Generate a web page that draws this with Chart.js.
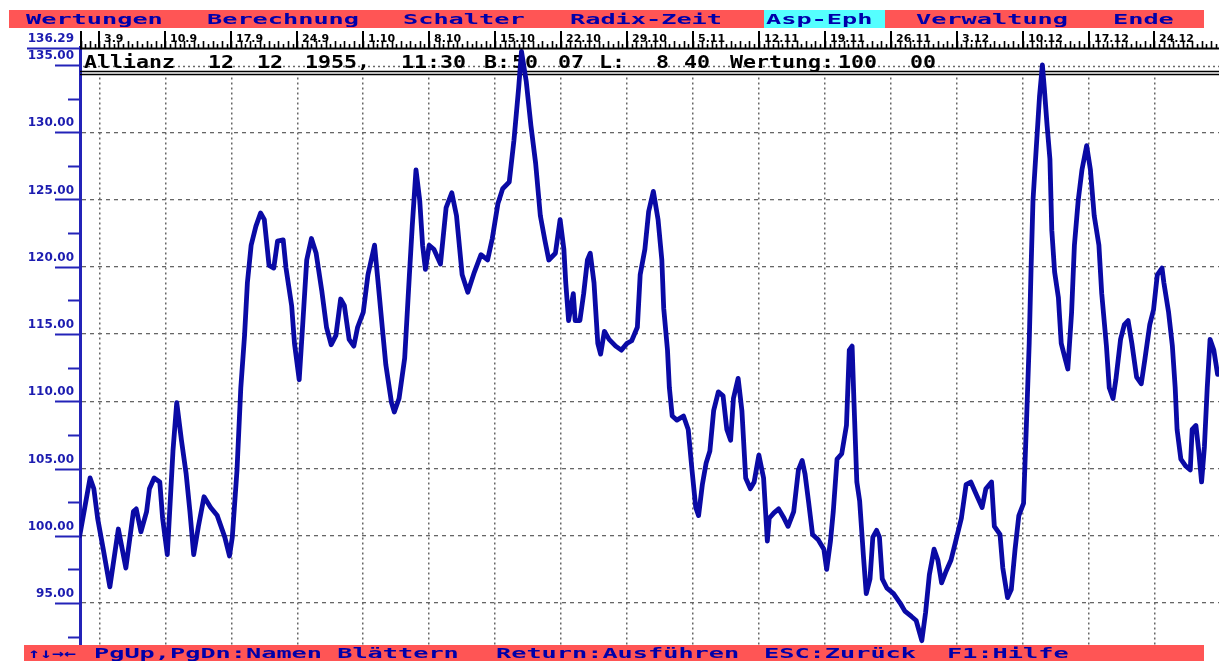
<!DOCTYPE html>
<html>
<head>
<meta charset="utf-8">
<script src="https://cdn.jsdelivr.net/npm/chart.js@4.4.0/dist/chart.umd.min.js"></script>
<style>
  html, body { margin: 0; padding: 0; background: #fff; }
  #wrap { width: 1219px; height: 666px; }
</style>
</head>
<body>
<div id="wrap"><canvas id="wertungChart" width="1219" height="666"></canvas></div>
<script>
// Tage ab 3.9. (Tag 0 = 3.9.)
const dayOffsets = [
  -2.1, -1.0, -0.6, -0.2, 0.4, 1.1, 2.0, 2.8, 3.6, 3.9,
  4.4, 5.0, 5.3, 5.8, 6.4, 6.7, 7.2, 7.8, 8.2, 8.7,
  9.2, 9.6, 10.0, 10.5, 11.1, 11.8, 12.5, 13.3, 13.8, 14.1,
  14.6, 15.0, 15.4, 15.7, 16.1, 16.6, 17.1, 17.5, 18.0, 18.5,
  18.9, 19.5, 19.8, 20.4, 20.7, 21.2, 21.6, 22.0, 22.5, 23.0,
  23.6, 24.1, 24.6, 25.1, 25.6, 26.0, 26.5, 27.0, 27.4, 28.0,
  28.5, 29.2, 29.5, 30.1, 30.4, 31.0, 31.3, 31.8, 32.4, 32.9,
  33.2, 33.6, 34.0, 34.3, 34.6, 35.0, 35.5, 36.2, 36.8, 37.4,
  37.9, 38.5, 39.1, 39.8, 40.5, 41.2, 41.7, 42.3, 42.8, 43.5,
  44.0, 44.5, 44.8, 45.3, 45.8, 46.3, 46.8, 47.3, 47.7, 48.4,
  48.9, 49.3, 49.5, 49.8, 50.3, 50.5, 51.0, 51.4, 51.8, 52.1,
  52.5, 52.9, 53.2, 53.6, 54.1, 54.8, 55.4, 56.0, 56.5, 57.1,
  57.4, 57.9, 58.3, 58.8, 59.3, 59.7, 59.9, 60.3, 60.5, 60.8,
  61.3, 62.0, 62.5, 62.9, 63.3, 63.6, 64.0, 64.4, 64.8, 65.2,
  65.7, 66.2, 66.6, 67.0, 67.3, 67.8, 68.2, 68.6, 69.1, 69.5,
  70.0, 70.5, 70.9, 71.1, 71.6, 72.1, 72.6, 73.1, 73.7, 74.2,
  74.6, 74.9, 75.3, 75.7, 76.3, 76.9, 77.2, 77.6, 77.9, 78.3,
  78.8, 79.3, 79.6, 79.9, 80.1, 80.4, 80.7, 81.1, 81.4, 81.8,
  82.1, 82.5, 82.8, 83.1, 83.6, 84.3, 85.0, 85.5, 86.2, 86.7,
  87.3, 87.7, 88.1, 88.6, 89.0, 89.4, 89.9, 90.4, 90.9, 91.5,
  92.0, 92.5, 93.0, 93.7, 94.1, 94.7, 95.0, 95.6, 95.9, 96.4,
  96.8, 97.2, 97.6, 98.1, 98.4, 98.7, 98.9, 99.1, 99.5, 99.8,
  100.1, 100.3, 100.6, 100.9, 101.1, 101.4, 101.8, 102.1, 102.5, 102.8,
  103.2, 103.5, 103.9, 104.3, 104.8, 105.2, 105.6, 106.1, 106.4, 106.9,
  107.2, 107.6, 107.9, 108.4, 108.8, 109.2, 109.6, 110.1, 110.6, 111.0,
  111.5, 111.9, 112.3, 112.8, 113.0, 113.5, 113.9, 114.2, 114.4, 114.8,
  115.3, 115.8, 116.0, 116.4, 116.7, 117.0, 117.3, 117.6, 117.9, 118.3,
  118.7
];

const wertung = [
  100.0, 104.3, 103.5, 101.3, 99.0, 96.2, 100.5, 97.6, 101.8, 102.0,
  100.3, 101.8, 103.5, 104.3, 104.0, 101.3, 98.6, 106.3, 109.9, 107.1,
  104.6, 101.8, 98.6, 100.7, 102.9, 102.1, 101.5, 99.9, 98.5, 99.9,
  104.9, 111.0, 114.9, 118.8, 121.6, 123.0, 124.0, 123.5, 120.1, 119.9,
  121.9, 122.0, 119.9, 117.1, 114.3, 111.6, 116.0, 120.5, 122.1, 121.0,
  118.2, 115.5, 114.2, 114.9, 117.6, 117.1, 114.6, 114.1, 115.5, 116.6,
  119.4, 121.6, 119.4, 114.9, 112.7, 109.9, 109.2, 110.2, 113.2, 119.4,
  123.0, 127.2, 124.9, 121.6, 119.8, 121.6, 121.3, 120.2, 124.4, 125.5,
  123.8, 119.4, 118.1, 119.6, 120.9, 120.5, 122.1, 124.7, 125.8, 126.3,
  129.4, 133.3, 136.0, 133.8, 130.5, 127.7, 123.8, 121.9, 120.5, 121.0,
  123.5, 121.3, 118.8, 116.0, 118.0, 116.0, 116.0, 118.0, 120.5, 121.0,
  118.8, 114.3, 113.5, 115.2, 114.6, 114.1, 113.8, 114.3, 114.5, 115.5,
  119.4, 121.3, 124.1, 125.6, 123.5, 120.5, 116.9, 113.8, 111.0, 108.9,
  108.6, 108.9, 107.9, 104.9, 102.1, 101.5, 103.8, 105.4, 106.3, 109.3,
  110.7, 110.4, 107.9, 107.1, 110.2, 111.7, 109.3, 104.3, 103.5, 104.0,
  106.0, 104.3, 99.6, 101.3, 101.7, 102.0, 101.4, 100.7, 101.8, 104.9,
  105.6, 104.6, 102.4, 100.1, 99.7, 99.0, 97.5, 99.6, 101.8, 105.7,
  106.1, 108.2, 113.8, 114.1, 109.9, 104.0, 102.6, 98.5, 95.7, 96.8,
  99.9, 100.4, 99.9, 96.8, 96.1, 95.7, 95.0, 94.4, 94.0, 93.7,
  92.2, 94.3, 97.1, 99.0, 98.2, 96.5, 97.4, 98.2, 99.6, 101.3,
  103.8, 104.0, 103.2, 102.1, 103.5, 104.0, 100.7, 100.1, 97.6, 95.4,
  96.0, 99.0, 101.5, 102.4, 108.2, 114.3, 119.9, 124.9, 129.4, 132.7,
  135.0, 133.3, 130.5, 128.0, 122.7, 119.6, 117.7, 114.3, 113.2, 112.4,
  116.6, 121.6, 124.9, 127.2, 129.0, 127.2, 123.8, 121.6, 118.0, 114.1,
  111.0, 110.2, 111.6, 114.6, 115.7, 116.0, 114.3, 111.8, 111.3, 113.2,
  115.7, 116.8, 119.4, 119.9, 118.8, 116.6, 114.1, 111.0, 107.9, 105.7,
  105.2, 104.9, 107.9, 108.2, 106.3, 104.0, 106.6, 111.0, 114.6, 113.8,
  112.0
];

// Wochenbeschriftung der Zeitleiste (jeweils 7 Tage Abstand)
const weekLabels = ['3.9', '10.9', '17.9', '24.9', '1.10', '8.10', '15.10', '22.10', '29.10',
  '5.11', '12.11', '19.11', '26.11', '3.12', '10.12', '17.12', '24.12'];

const yMin = 91.30;
const yMax = 136.29;
const yMajorTicks = [91.30, 95, 100, 105, 110, 115, 120, 125, 130, 135, 136.29];
const yMinorTicks = [92.5, 97.5, 102.5, 107.5, 112.5, 117.5, 122.5, 127.5, 132.5];

// Texte der Bildschirmmaske
const menuItems = ['Wertungen', 'Berechnung', 'Schalter', 'Radix-Zeit', 'Asp-Eph', 'Verwaltung', 'Ende'];
const statusItems = ['↑↓→←', 'PgUp,PgDn:Namen Blättern', 'Return:Ausführen', 'ESC:Zurück', 'F1:Hilfe'];
const infoItems = ['Allianz', '12', '12', '1955,', '11:30', 'B:', '50', '07', 'L:', '8', '40', 'Wertung:', '100', '00'];

// Layout der Maske (Pixel)
const menuX = [26, 207, 403, 570, 766, 916, 1113];
const statusX = [28, 94, 496, 764, 947];
const infoX = [84, 208, 257, 305, 401, 484, 512, 558, 599, 656, 684, 730, 838, 910];

const DOS_BLUE = '#0000aa';
const DOS_RED = '#ff5555';
const DOS_CYAN = '#55ffff';
const AXIS_BLUE = '#2323b8';
const GRID_GREY = '#666';

function dosText(ctx, text, x, y, pitch, size, color) {
  ctx.save();
  ctx.font = 'bold ' + size + 'px "DejaVu Sans Mono"';
  const adv = ctx.measureText('M').width;
  ctx.translate(x, y);
  ctx.scale(pitch / adv, 1);
  ctx.fillStyle = color;
  ctx.textAlign = 'left';
  ctx.textBaseline = 'alphabetic';
  ctx.fillText(text, 0, 0);
  ctx.restore();
}

function hLine(ctx, x1, x2, y) {
  ctx.beginPath();
  ctx.moveTo(x1, y);
  ctx.lineTo(x2, y);
  ctx.stroke();
}

function vLine(ctx, x, y1, y2) {
  ctx.beginPath();
  ctx.moveTo(x, y1);
  ctx.lineTo(x, y2);
  ctx.stroke();
}

const dosScreen = {
  id: 'dosScreen',
  beforeDatasetsDraw(chart) {
    const { ctx, chartArea, scales: { y } } = chart;
    ctx.save();
    // Kopfzeile mit den Radixdaten
    ctx.fillStyle = '#fff';
    ctx.fillRect(chartArea.left + 2, 49, chartArea.right - chartArea.left - 2, 28);
    ctx.strokeStyle = GRID_GREY;
    ctx.lineWidth = 1.3;
    ctx.setLineDash([2, 3]);
    hLine(ctx, chartArea.left + 3, chartArea.right, Math.round(y.getPixelForValue(135)) + 1.5);
    ctx.setLineDash([]);
    infoItems.forEach((t, i) => dosText(ctx, t, infoX[i], 68, 13, 17, '#000'));
    ctx.strokeStyle = '#000';
    ctx.lineWidth = 1.5;
    hLine(ctx, chartArea.left, chartArea.right, 71.5);
    hLine(ctx, chartArea.left, chartArea.right, 74.5);
    ctx.restore();
  },
  afterDraw(chart) {
    const { ctx, chartArea, scales: { x, y } } = chart;
    ctx.save();

    // Zeitleiste oben
    ctx.strokeStyle = '#000';
    ctx.lineWidth = 2;
    hLine(ctx, chartArea.left, chartArea.right, 48.5);
    vLine(ctx, chartArea.left + 1, 31, 48);
    ctx.lineWidth = 1.6;
    for (let h = Math.ceil(x.min * 2) / 2; h <= x.max; h += 0.5) {
      const px = Math.round(x.getPixelForValue(h)) + 0.5;
      const len = Number.isInteger(h) ? 7 : 4;
      vLine(ctx, px, 48 - len, 48);
    }
    ctx.lineWidth = 2;
    ctx.fillStyle = '#000';
    ctx.font = 'bold 11px "DejaVu Sans"';
    ctx.textAlign = 'left';
    ctx.textBaseline = 'alphabetic';
    weekLabels.forEach((lab, i) => {
      const px = Math.round(x.getPixelForValue(i * 7));
      vLine(ctx, px, 31, 48);
      ctx.fillText(lab, px + 5, 42);
    });

    // Skalenstriche der Wertungsachse
    ctx.strokeStyle = AXIS_BLUE;
    ctx.lineWidth = 2;
    yMajorTicks.forEach(v => {
      const py = Math.round(y.getPixelForValue(v)) + 0.5;
      const isEnd = v === yMin || v === yMax;
      hLine(ctx, isEnd ? 27 : 55, chartArea.left, py);
    });
    yMinorTicks.forEach(v => {
      const py = Math.round(y.getPixelForValue(v)) + 0.5;
      hLine(ctx, 68, chartArea.left, py);
    });

    // Menüleiste
    ctx.fillStyle = DOS_RED;
    ctx.fillRect(9, 10, 1195, 18);
    ctx.fillStyle = DOS_CYAN;
    ctx.fillRect(764, 10, 121, 18);
    menuItems.forEach((t, i) => dosText(ctx, t, menuX[i], 24, 15.2, 14, DOS_BLUE));

    // Statuszeile
    ctx.fillStyle = DOS_RED;
    ctx.fillRect(24, 645, 1180, 16);
    statusItems.forEach((t, i) => dosText(ctx, t, statusX[i], 657.5, i === 0 ? 12 : 15.2, 14, DOS_BLUE));

    ctx.restore();
  }
};

const points = dayOffsets.map((d, i) => ({ x: d, y: wertung[i] }));

new Chart(document.getElementById('wertungChart'), {
  type: 'line',
  data: {
    datasets: [{
      label: 'Wertung',
      data: points,
      borderColor: '#0a0aa5',
      borderWidth: 4.8,
      borderJoinStyle: 'round',
      borderCapStyle: 'round',
      pointRadius: 0,
      tension: 0,
      fill: false
    }]
  },
  options: {
    responsive: false,
    devicePixelRatio: 1,
    animation: false,
    layout: { padding: { top: 47.6, bottom: 11, left: 0, right: 0 } },
    plugins: {
      legend: { display: false },
      tooltip: { enabled: false }
    },
    scales: {
      x: {
        type: 'linear',
        min: -2.07,
        max: 118.85,
        afterBuildTicks: scale => {
          scale.ticks = weekLabels.map((_, i) => ({ value: i * 7 }));
        },
        afterFit: scale => { scale.height = 0; },
        ticks: { display: false },
        border: { display: false, dash: [2, 3] },
        grid: {
          color: GRID_GREY,
          lineWidth: 1.5,
          drawTicks: false
        }
      },
      y: {
        min: yMin,
        max: yMax,
        afterBuildTicks: scale => {
          scale.ticks = yMajorTicks.map(v => ({ value: v }));
        },
        afterFit: scale => { scale.width = 80; },
        ticks: {
          autoSkip: false,
          padding: 6,
          labelOffset: -9,
          color: c => (c.tick && c.tick.value === yMin) ? 'rgba(0,0,0,0)' : '#1c1cb0',
          font: { family: 'DejaVu Sans', size: 12, weight: 'bold' },
          callback: v => Number(v).toFixed(2)
        },
        border: { display: true, color: AXIS_BLUE, width: 3, dash: [4, 4] },
        grid: {
          drawTicks: false,
          lineWidth: 1.3,
          color: c => (c.tick && c.tick.value >= 95 && c.tick.value <= 135) ? GRID_GREY : 'rgba(0,0,0,0)'
        }
      }
    }
  },
  plugins: [dosScreen]
});
</script>
</body>
</html>
